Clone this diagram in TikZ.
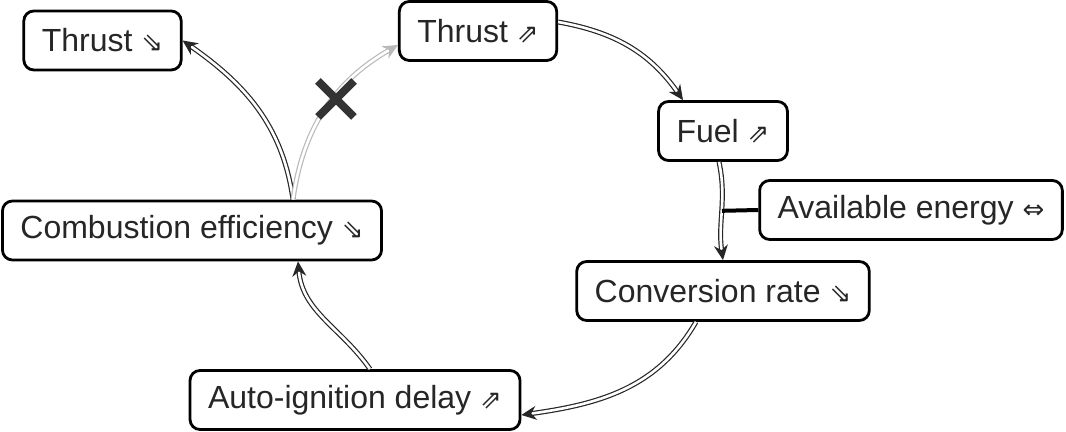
\documentclass[tikz,border=0pt]{standalone}
\usepackage{fontspec}
\setmainfont{Liberation Sans}
\newfontfamily\arrowfont{DejaVu Sans}
\usetikzlibrary{arrows.meta,shapes.misc}
\newcommand{\trendup}{{\arrowfont\fontsize{13}{13}\selectfont ⇗}}
\newcommand{\trenddown}{{\arrowfont\fontsize{13}{13}\selectfont ⇘}}
\newcommand{\trendflat}{{\arrowfont\fontsize{13}{13}\selectfont ⇔}}
\begin{document}
\begin{tikzpicture}[x=0.5pt,y=0.5pt,
            box/.style={draw,line width=1.4pt,rounded corners=5pt,fill=white,text=black!85,
                font=\fontsize{16}{19}\selectfont,inner xsep=9pt,minimum height=29.5pt},
            link/.style={draw=black!85,line width=0.6pt,double=white,double distance=1.3pt,
                -{Stealth[length=7.5pt,width=7pt,inset=2.5pt]}},
            cut/.style={draw=gray!55,line width=0.6pt,double=white,double distance=1.3pt,
                -{Stealth[length=7.5pt,width=7pt,inset=2.5pt]}}]
            \useasboundingbox (0,0) rectangle (1066,432);
            \node[box] (thrustdown) at (102.5,391.5){Thrust \trenddown};
            \node[box] (thrustup) at (478,401){Thrust \trendup};
            \node[box] (fuel) at (723,301){Fuel \trendup};
            \node[box] (energy) at (911,222){Available energy \trendflat};
            \node[box] (rate) at (723,141){Conversion rate \trenddown};
            \node[box] (combust) at (192,201.5){Combustion efficiency \trenddown};
            \node[box] (delay) at (355,32){Auto-ignition delay \trendup};

            \draw[link] ([xshift=50.5pt]combust.north) to[out=98,in=-35] (thrustdown.east);
            \draw[cut] ([xshift=50.5pt]combust.north) to[out=82,in=-150] ([yshift=-7pt]thrustup.west);
            \node[cross out,draw=black!80,line width=4pt,minimum size=14pt,inner sep=0pt] (stop) at (336,333){};
            \draw[link] ([yshift=4.5pt]thrustup.east) to[out=-10,in=125] ([xshift=-20pt]fuel.north);
            \draw[link] ([xshift=-2pt]fuel.south) to[out=-78,in=98] coordinate[pos=0.5] (join) (rate.north);
            \draw[line width=2pt] (energy.west) -- (join);
            \draw[link] ([xshift=-13.5pt]rate.south) to[out=-120,in=8] ([yshift=-7.5pt]delay.east);
            \draw[link] ([xshift=7.5pt]delay.north) to[out=125,in=-85] ([xshift=53pt]combust.south);
        \end{tikzpicture}
\end{document}
